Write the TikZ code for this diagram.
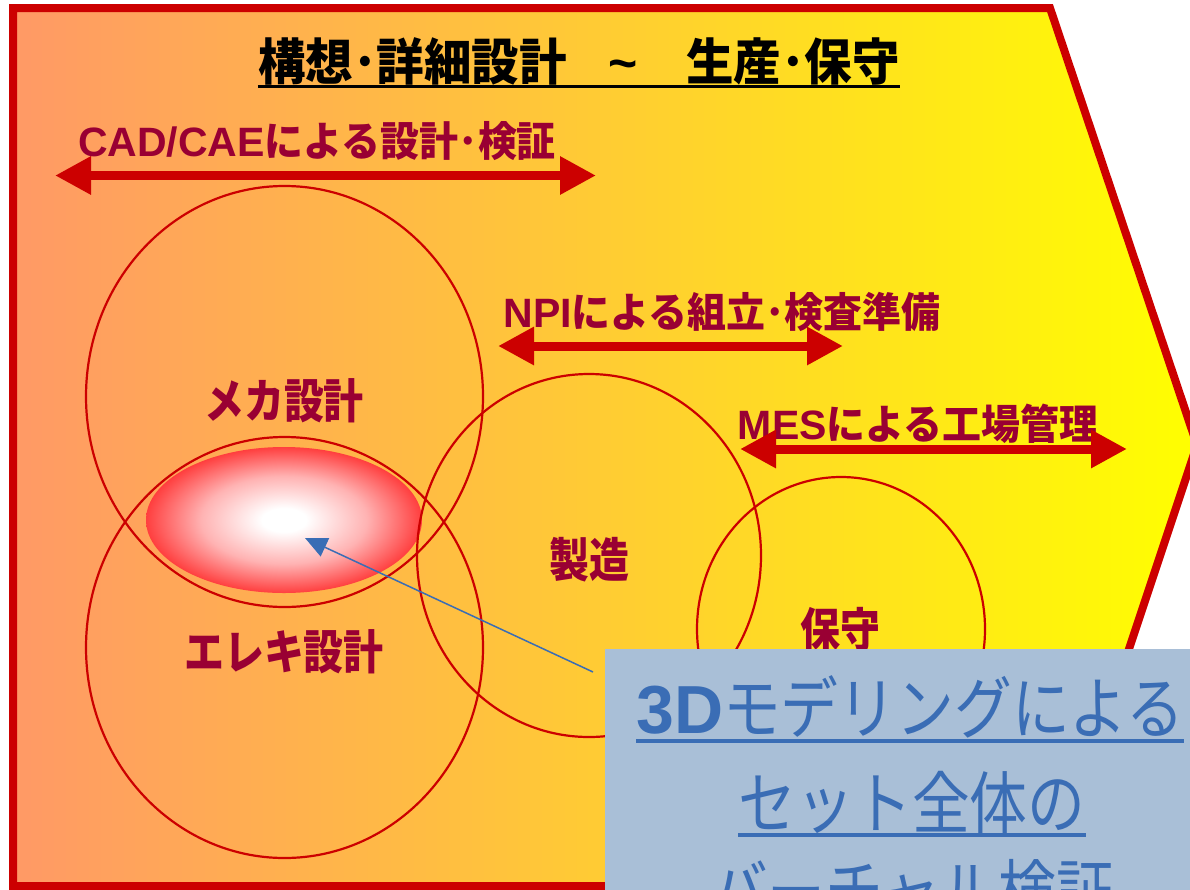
\documentclass[tikz,border=0pt]{standalone}
\usepackage{fontspec}
\usetikzlibrary{arrows.meta,shapes.geometric}
\setmainfont{Liberation Sans}
\newfontfamily\lat{Liberation Sans}
\newfontfamily\jp{Noto Sans CJK JP}[FakeStretch=0.95]
\newfontfamily\jpc{Noto Sans CJK JP}[FakeStretch=0.85]
\definecolor{lbl}{HTML}{990033}
\definecolor{arr}{HTML}{CC0000}
\definecolor{bgl}{HTML}{FF9966}
\definecolor{bgr}{HTML}{FFFF00}
\definecolor{bbox}{HTML}{A9BFD7}
\definecolor{bblue}{HTML}{3A6DB5}
\pgfdeclareradialshading{glow}{\pgfpointorigin}{color(0bp)=(white); color(4bp)=(white); color(15bp)=(red!30!white); color(26bp)=(red!80!white); color(33bp)=(red); color(50bp)=(red)}
\tikzset{
  frame/.style={draw=arr, line width=8pt, left color=bgl, right color=bgr, line join=miter},
  ring/.style={draw=arr, line width=2.2pt, ellipse, inner sep=0pt},
  bigarrow/.style={draw=arr, line width=9pt, {Triangle[length=36pt,width=36pt]}-{Triangle[length=36pt,width=36pt]}},
  lab/.style={text=lbl, inner sep=0pt, anchor=base, font=\fontsize{41pt}{45pt}\selectfont\bfseries},
  clab/.style={text=lbl, inner sep=0pt, font=\jpc\fontsize{47pt}{50pt}\selectfont\bfseries},
  ttl/.style={text=black, inner sep=0pt, anchor=base, font=\jp\fontsize{50pt}{53pt}\selectfont\bfseries},
  btxt/.style={text=bblue, inner sep=0pt, anchor=base, font=\jpc\fontsize{68pt}{72pt}\selectfont},
  bline/.style={draw=bblue, line width=3.5pt},
  barrow/.style={draw=bblue, line width=1.5pt, -{Triangle[length=22pt,width=20pt]}},
}
\begin{document}
\begin{tikzpicture}[x=1pt,y=-1pt]
\useasboundingbox (0,0) rectangle (1190,889);
\clip (0,0) rectangle (1190,889);
\fill[white] (0,0) rectangle (1190,889);
% big arrow-shaped frame
\draw[frame] (13,8) -- (1050,8) -- (1197,445) -- (1050,886) -- (13,886) -- cycle;
% glowing ellipse
\node[ellipse, minimum width=276pt, minimum height=146pt, inner sep=0pt, shading=glow] (glow) at (284,520) {};
% circles
\node[ring, minimum width=397pt, minimum height=421pt] (mech) at (284.5,396.5) {};
\node[ring, minimum width=397pt, minimum height=421pt] (elec) at (284.5,647.5) {};
\node[ring, minimum width=344pt, minimum height=363pt] (mfg) at (589,555.5) {};
\node[ring, minimum width=288pt, minimum height=304pt] (mnt) at (841,629) {};
% circle labels
\node[clab] (mechl) at (284,401) {メカ設計};
\node[clab] (elecl) at (284,652) {エレキ設計};
\node[clab] (mfgl) at (589,560) {製造};
\node[clab] (mntl) at (840,630) {保守};
% title
\node[ttl] (title) at (579,80) {構想･詳細設計\hspace{42pt}{\lat\textasciitilde}\hspace{48pt}生産･保守};
\draw[line width=3pt] ([yshift=-6pt]title.base west) -- ([yshift=-6pt]title.base east);
% phase labels and arrows
\node[lab] (cadl) at (317,156) {\lat CAD/CAE\jp による設計･検証};
\node[lab] (npil) at (722,327) {\lat NPI\jp による組立･検査準備};
\node[lab] (mesl) at (918,439) {\lat MES\jp による工場管理};
\coordinate (cadA) at (55,175.5);
\coordinate (cadB) at (596,175.5);
\coordinate (npiA) at (498,346);
\coordinate (npiB) at (843,346);
\coordinate (mesA) at (740,449);
\coordinate (mesB) at (1127,449);
\draw[bigarrow] (cadA) -- (cadB);
\draw[bigarrow] (npiA) -- (npiB);
\draw[bigarrow] (mesA) -- (mesB);
% pointer
\coordinate (ptail) at (593,672);
\coordinate (phead) at (305,538);
\draw[barrow] (ptail) -- (phead);
% callout box
\node[fill=bbox, anchor=north west, minimum width=620pt, minimum height=260pt, inner sep=0pt] (box) at (605,649) {};
\node[btxt] (b1) at (910,733) {{\lat\bfseries 3D}モデリングによる};
\node[btxt] (b2) at (912,828) {セット全体の};
\node[btxt] (b3) at (912,916) {バーチャル検証};
\draw[bline] ([yshift=-8pt]b1.base west) -- ([yshift=-8pt]b1.base east);
\draw[bline] ([yshift=-7pt]b2.base west) -- ([yshift=-7pt]b2.base east);
\draw[bline] ([yshift=-7pt]b3.base west) -- ([yshift=-7pt]b3.base east);
\end{tikzpicture}
\end{document}
